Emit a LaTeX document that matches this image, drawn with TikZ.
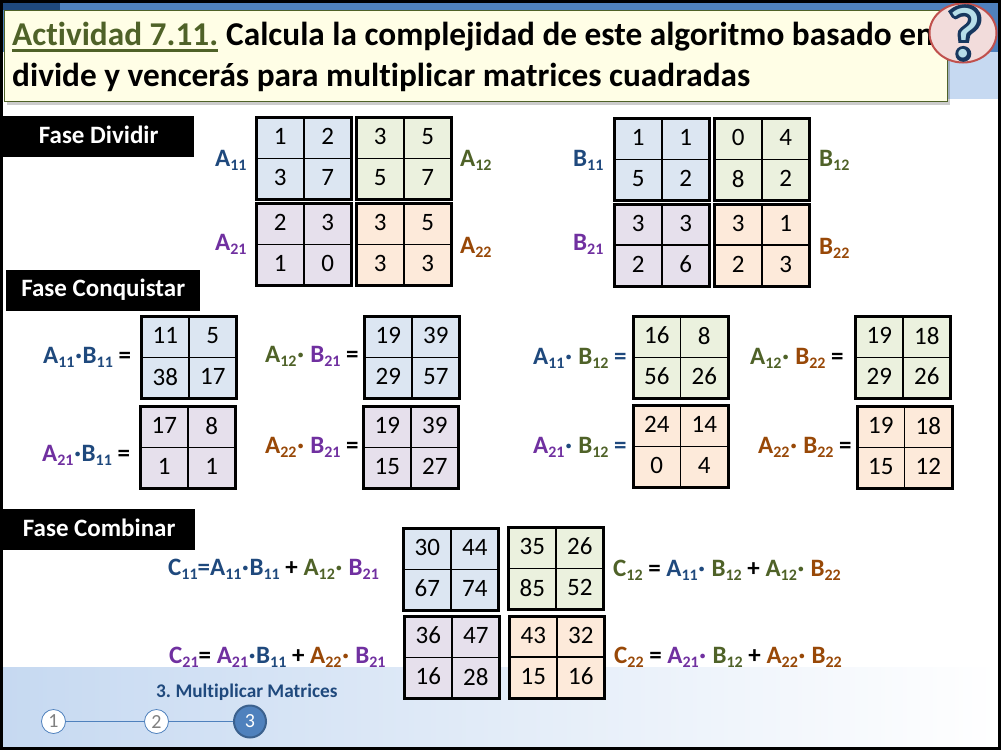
\documentclass[tikz,border=0pt]{standalone}
\usepackage{fontspec}
\setmainfont{Carlito}[Ligatures=NoCommon]
\newfontfamily\qmarkdark[FakeBold=6]{Carlito Bold}
\newfontfamily\qmarklight{Carlito}
\usetikzlibrary{positioning,shadows,shapes.geometric}
\frenchspacing
\definecolor{lblue}{HTML}{1F497D}
\definecolor{lgreen}{HTML}{4F6228}
\definecolor{lpurple}{HTML}{7030A0}
\definecolor{lorange}{HTML}{984807}
\definecolor{fblue}{HTML}{DCE6F2}
\definecolor{fgreen}{HTML}{EBF1DE}
\definecolor{fpurple}{HTML}{E6E0EC}
\definecolor{forange}{HTML}{FDEADA}
\definecolor{bandblue}{HTML}{4F81BD}
\definecolor{bandlight}{HTML}{C6D9F1}
\definecolor{qborder}{HTML}{C0504D}
\definecolor{qfill}{HTML}{F2DCDB}
\definecolor{qdeep}{HTML}{17375E}
\definecolor{qpale}{HTML}{B7DEE8}
\tikzset{
  cellbox/.style={draw=black,line width=1.3pt,inner sep=0pt,outer sep=0pt,minimum width=47.5pt,minimum height=41pt,text depth=3pt,font=\fontsize{25}{28}\selectfont},
  matframe/.style={draw=black,line width=3pt},
  mlabel/.style={anchor=base west,inner sep=0pt,font=\bfseries\fontsize{25}{28}\selectfont},
  fasetab/.style={fill=black,text=white,inner sep=0pt,anchor=north west,minimum height=41pt,text height=18pt,text depth=5pt,font=\bfseries\fontsize{25}{28}\selectfont},
  titletext/.style={anchor=base west,inner sep=0pt,font=\bfseries\fontsize{33.3}{36}\selectfont},
  progdot/.style={circle,draw=bandblue,fill=white,line width=0.8pt,minimum size=24pt,inner sep=0pt,text=gray,font=\fontsize{20}{24}\selectfont},
}
\begin{document}
\begin{tikzpicture}[x=1pt,y=-1pt]

        \useasboundingbox (0,0) rectangle (1001,750);

        \def\subn#1{{\fontsize{16}{18}\selectfont\raisebox{-4pt}{#1}}}
        \def\sym#1#2#3{\textcolor{#1}{#2\subn{#3}}}
        \def\dotm#1{\kern0.7pt\textcolor{#1}{·}\kern0.7pt\relax}

        % name, corner, fill, cells
        \def\matbox#1#2#3#4#5#6#7#8{
          \node[cellbox,fill=#4,anchor=north west] (#1a) at (#2,#3) {#5};
          \node[cellbox,fill=#4,right=0pt of #1a] (#1b) {#6};
          \node[cellbox,fill=#4,below=0pt of #1a] (#1c) {#7};
          \node[cellbox,fill=#4,right=0pt of #1c] (#1d) {#8};
          \draw[matframe] (#1a.north west) rectangle (#1d.south east);
        }

        % bands behind everything
        \fill[bandblue] (3,3) rectangle (998,52);
        \fill[bandlight] (900,52) rectangle (998,99);
        \fill[lblue] (3,3) rectangle (60,10);
        \shade[left color=bandlight,right color=white] (3,667) rectangle (998,747);

        % title
        \node[rectangle,draw=lgreen,line width=0.8pt,fill=yellow!10,inner sep=0pt,anchor=north west,minimum width=943pt,minimum height=91pt,drop shadow={shadow xshift=3pt,shadow yshift=-4pt,opacity=0.2,fill=black}] (titlebox) at (3.5,10) {};
        \node[titletext,text=lgreen] (actname) at (12,45) {Actividad 7.11.};
        \node[titletext] (titleone) at (226,45) {Calcula la complejidad de este algoritmo basado en};
        \node[titletext] (titletwo) at (12,86) {divide y vencerás para multiplicar matrices cuadradas};
        \draw[lgreen,line width=2.5pt] ([yshift=-5pt]actname.south west) -- ([yshift=-5pt]actname.south east);

        % question mark
        \node[ellipse,draw=qborder,line width=2pt,fill=qfill,minimum width=67pt,minimum height=59pt,inner sep=0pt] (qbubble) at (963,33) {};
        \node[inner sep=0pt,text=qdeep,font=\qmarkdark\fontsize{76}{76}\selectfont] (qdark) at (965,33) {?};
        \node[inner sep=0pt,text=qpale,font=\qmarklight\fontsize{72}{76}\selectfont] (qlight) at (965,33) {?};

        % phase tabs
        \node[fasetab,minimum width=191pt] (tabdiv) at (3,116) {Fase Dividir};
        \node[fasetab,minimum width=194pt,text depth=6pt] (tabcon) at (6,270) {Fase Conquistar};
        \node[fasetab,minimum width=192pt] (tabcom) at (3,509) {Fase Combinar};

        % fase dividir
        \matbox{aoo}{256.5}{117.5}{fblue}{1}{2}{3}{7}
        \matbox{aot}{356.5}{117.5}{fgreen}{3}{5}{5}{7}
        \matbox{ato}{256.5}{203.5}{fpurple}{2}{3}{1}{0}
        \matbox{att}{356.5}{203.5}{forange}{3}{5}{3}{3}
        \matbox{boo}{614.5}{118.5}{fblue}{1}{1}{5}{2}
        \matbox{bot}{714.5}{118.5}{fgreen}{0}{4}{8}{2}
        \matbox{bto}{614.5}{204}{fpurple}{3}{3}{2}{6}
        \matbox{btt}{714.5}{204}{forange}{3}{1}{2}{3}

        \node[mlabel] (laoo) at (215,166) {\sym{lblue}{A}{11}};
        \node[mlabel] (laot) at (460,166) {\sym{lgreen}{A}{12}};
        \node[mlabel] (lato) at (215,250) {\sym{lpurple}{A}{21}};
        \node[mlabel] (latt) at (460,253) {\sym{lorange}{A}{22}};
        \node[mlabel] (lboo) at (573,166) {\sym{lblue}{B}{11}};
        \node[mlabel] (lbot) at (819,166) {\sym{lgreen}{B}{12}};
        \node[mlabel] (lbto) at (573,250) {\sym{lpurple}{B}{21}};
        \node[mlabel] (lbtt) at (819,254) {\sym{lorange}{B}{22}};

        % fase conquistar
        \matbox{paa}{141.5}{316.5}{fblue}{11}{5}{38}{17}
        \matbox{pab}{364.5}{316.5}{fblue}{19}{39}{29}{57}
        \matbox{pac}{140.5}{406.5}{fpurple}{17}{8}{1}{1}
        \matbox{pad}{363.5}{406.5}{fpurple}{19}{39}{15}{27}
        \matbox{pae}{633}{316.5}{fgreen}{16}{8}{56}{26}
        \matbox{paf}{855.5}{316.5}{fgreen}{19}{18}{29}{26}
        \matbox{pag}{633}{405.5}{forange}{24}{14}{0}{4}
        \matbox{pah}{857}{406.5}{forange}{19}{18}{15}{12}

        \node[mlabel] (lpaa) at (43,363) {\sym{lblue}{A}{11}\dotm{lblue}\sym{lblue}{B}{11} =};
        \node[mlabel] (lpab) at (265,362) {\sym{lgreen}{A}{12}\dotm{lgreen} \sym{lpurple}{B}{21} =};
        \node[mlabel] (lpac) at (42,461) {\sym{lpurple}{A}{21}\dotm{lblue}\sym{lblue}{B}{11} =};
        \node[mlabel] (lpad) at (265,453) {\sym{lorange}{A}{22}\dotm{lorange} \sym{lpurple}{B}{21} =};
        \node[mlabel] (lpae) at (533,364) {\sym{lblue}{A}{11}\dotm{lblue} \sym{lgreen}{B}{12} \textcolor{lblue}{=}};
        \node[mlabel] (lpaf) at (750,364) {\sym{lgreen}{A}{12}\dotm{lgreen} \sym{lorange}{B}{22} =};
        \node[mlabel] (lpag) at (533,453) {\sym{lpurple}{A}{21}\dotm{lblue} \sym{lgreen}{B}{12} \textcolor{lblue}{=}};
        \node[mlabel] (lpah) at (758,453) {\sym{lorange}{A}{22}\dotm{lorange} \sym{lorange}{B}{22} =};

        % fase combinar
        \matbox{coo}{403.5}{528.5}{fblue}{30}{44}{67}{74}
        \matbox{cot}{508.5}{527.5}{fgreen}{35}{26}{85}{52}
        \matbox{cto}{404.5}{616.5}{fpurple}{36}{47}{16}{28}
        \matbox{ctt}{509.5}{616}{forange}{43}{32}{15}{16}

        \node[mlabel] (lcoo) at (168,575) {\sym{lblue}{C}{11}\textcolor{lblue}{=}\sym{lblue}{A}{11}\dotm{lblue}\sym{lblue}{B}{11} + \sym{lgreen}{A}{12}\dotm{lgreen} \sym{lpurple}{B}{21}};
        \node[mlabel] (lcot) at (613,576) {\sym{lgreen}{C}{12} = \sym{lblue}{A}{11}\dotm{lblue} \sym{lgreen}{B}{12} + \sym{lgreen}{A}{12}\dotm{lgreen} \sym{lorange}{B}{22}};
        \node[mlabel] (lcto) at (169,663) {\sym{lpurple}{C}{21}= \sym{lpurple}{A}{21}\dotm{lblue}\sym{lblue}{B}{11} + \sym{lorange}{A}{22}\dotm{lorange} \sym{lpurple}{B}{21}};
        \node[mlabel] (lctt) at (614,663) {\sym{lorange}{C}{22} = \sym{lpurple}{A}{21}\dotm{lpurple} \sym{lgreen}{B}{12} + \sym{lorange}{A}{22}\dotm{lorange} \sym{lorange}{B}{22}};

        % progress bar
        \node[anchor=base west,inner sep=0pt,text=lblue,font=\bfseries\fontsize{19.3}{22}\selectfont] (progname) at (156,697) {3. Multiplicar Matrices};
        \node[progdot] (dotone) at (53.5,721.5) {1};
        \node[progdot] (dottwo) at (156.5,721.5) {2};
        \node[progdot,draw=bandblue!75!black,fill=bandblue,line width=2pt,minimum size=32pt,text=white] (dotthree) at (250,721.5) {3};
        \draw[bandblue,line width=0.8pt] (dotone) -- (dottwo);
        \draw[bandblue,line width=0.8pt] (dottwo) -- (dotthree);

        % slide border
        \draw[black,line width=3pt] (1.5,1.5) rectangle (999.5,748.5);

\end{tikzpicture}
\end{document}
